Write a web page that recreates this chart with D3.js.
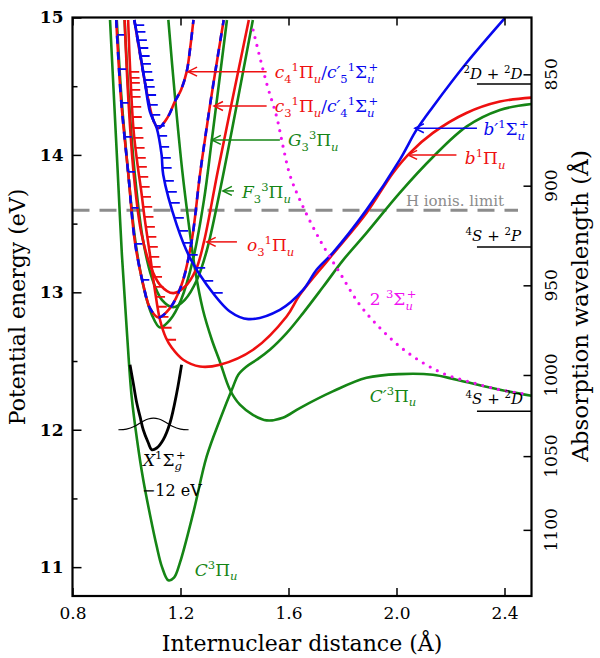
<!DOCTYPE html>
<html>
<head>
<meta charset="utf-8">
<title>N2 potential energy curves</title>
<script src="https://cdn.jsdelivr.net/npm/d3@7"></script>
<style>
  body { margin: 0; background: #fff; }
</style>
</head>
<body>
<script>
// ---- data: [r (Angstrom), E (eV)] ----
var C3Pi = [[0.939,14.982],[0.954,14.4],[0.968,13.855],[0.983,13.273],[1.001,12.727],[1.019,12.242],[1.039,11.927],[1.062,11.636],[1.087,11.382],[1.112,11.151],[1.131,11.004],[1.155,10.904],[1.176,10.924],[1.198,11.033],[1.247,11.393],[1.297,11.806],[1.346,12.073],[1.395,12.315],[1.414,12.4],[1.445,12.46],[1.482,12.509],[1.531,12.582],[1.593,12.703],[1.654,12.849],[1.729,13.042],[1.803,13.236],[1.889,13.433],[2.012,13.724],[2.135,13.985],[2.259,14.206],[2.383,14.327],[2.5,14.371]]
var Cp3Pi = [[1.155,14.982],[1.179,14.436],[1.207,13.876],[1.231,13.491],[1.254,13.164],[1.283,12.873],[1.316,12.655],[1.346,12.495],[1.383,12.291],[1.420,12.182],[1.468,12.109],[1.519,12.068],[1.579,12.087],[1.642,12.158],[1.764,12.279],[1.889,12.378],[2.012,12.405],[2.135,12.4],[2.222,12.364],[2.383,12.291],[2.5,12.247]]
var G33Pi = [[0.964,14.982],[0.982,14.4],[1.007,13.855],[1.033,13.369],[1.066,13.018],[1.094,12.836],[1.124,12.744],[1.161,12.8],[1.202,12.945],[1.246,13.236],[1.287,13.673],[1.316,14.109],[1.372,14.982]]
var F33Pi = [[0.993,14.982],[1.009,14.4],[1.031,13.855],[1.061,13.382],[1.094,13.105],[1.131,12.945],[1.173,12.891],[1.216,12.945],[1.261,13.091],[1.298,13.309],[1.346,13.738],[1.468,14.982]]
var o31Pi = [[0.993,14.982],[1.007,14.4],[1.027,13.855],[1.054,13.44],[1.087,13.2],[1.124,13.055],[1.173,12.994],[1.216,13.04],[1.257,13.164],[1.287,13.369],[1.339,13.891],[1.453,14.982]]
var b1Pi = [[1.006,14.982],[1.014,14.596],[1.026,14.182],[1.041,13.927],[1.054,13.745],[1.068,13.527],[1.087,13.273],[1.105,13.018],[1.124,12.8],[1.146,12.669],[1.168,12.596],[1.210,12.509],[1.272,12.46],[1.346,12.473],[1.469,12.582],[1.593,12.824],[1.642,12.982],[1.753,13.251],[1.889,13.578],[1.987,13.869],[2.05,14.015],[2.135,14.16],[2.259,14.305],[2.383,14.388],[2.5,14.417]]
var bp1Sig = [[1.029,14.982],[1.050,14.749],[1.068,14.531],[1.087,14.313],[1.112,14.194],[1.130,14.0],[1.136,13.855],[1.186,13.491],[1.235,13.251],[1.297,13.055],[1.383,12.86],[1.451,12.805],[1.568,12.873],[1.654,13.018],[1.704,13.164],[1.764,13.287],[1.889,13.6],[2.012,13.964],[2.074,14.182],[2.135,14.351],[2.259,14.669],[2.401,14.996]]
var c4c5 = [[1.029,14.982],[1.068,14.531],[1.087,14.342],[1.102,14.24],[1.118,14.194],[1.142,14.242],[1.161,14.305],[1.179,14.388],[1.202,14.473],[1.223,14.606],[1.235,14.764],[1.248,14.982]]
var c3c4 = [[0.962,14.982],[0.980,14.4],[1.007,13.855],[1.031,13.369],[1.062,13.055],[1.087,12.885],[1.118,12.817],[1.161,12.885],[1.204,13.055],[1.241,13.369],[1.272,13.855],[1.309,14.359],[1.360,14.982]]
var sig3 = [[1.469,14.909],[1.519,14.521],[1.556,14.279],[1.580,14.06],[1.605,13.855],[1.642,13.673],[1.716,13.382],[1.790,13.142],[1.864,12.909],[1.938,12.742],[2.012,12.606],[2.098,12.487],[2.185,12.4],[2.283,12.342],[2.383,12.291],[2.494,12.255]]
var Xground = [[1.013,12.473],[1.025,12.34],[1.038,12.194],[1.050,12.097],[1.062,12.0],[1.081,11.903],[1.093,11.855],[1.112,11.867],[1.136,11.927],[1.161,12.049],[1.186,12.267],[1.204,12.473]]
var Xwave = [[0.97,12.0],[1.00,12.005],[1.03,12.025],[1.06,12.06],[1.08,12.078],[1.10,12.085],[1.12,12.078],[1.14,12.06],[1.17,12.025],[1.20,12.005],[1.23,12.0]]

// vibrational level markers (eV)
var bpLevels = [14.945,14.895,14.836,14.778,14.72,14.662,14.604,14.545,14.495,14.436,14.364,14.291,14.211,14.138,14.058,13.978,13.905,13.811,13.731,13.651,13.542,13.447,13.36,13.273,13.178,13.084,12.996]
var bLevels = [14.604,14.56,14.524,14.473,14.422,14.349,14.276,14.196,14.124,14.051,13.978,13.913,13.84,13.767,13.695,13.622,13.549,13.476,13.404,13.331,13.258,13.185,13.113,13.04,12.967,12.895,12.822,12.742,12.655]
var c4pLevels = [14.873,14.625,14.378,14.131,13.876,13.615,13.353,13.091]

// atomic limits (eV) and H ionisation
var limitNames = ["2D+2D", "4S+2P", "4S+2D"]
var limitE = [14.516, 13.329, 12.135]
var Hlimit = 13.598

var xTicks = [0.8, 1.2, 1.6, 2.0, 2.4]
var yTicks = [11, 12, 13, 14, 15]
var yMinor = [11.5, 12.5, 13.5, 14.5]
var wavelengths = [850, 900, 950, 1000, 1050, 1100]
var hc = 12398.42

var RED = "#ee1010", GREEN = "#158515", BLUE = "#0808ee", MAG = "#f010f0", GRAY = "#8c8c8c"
var SERIF = "'DejaVu Serif', serif"

var width = 600, height = 658
var x = d3.scaleLinear().domain([0.8, 2.5]).range([72.5, 531.5])
var y = d3.scaleLinear().domain([10.79, 15]).range([596, 17.5])

var svg = d3.select("body").append("svg").attr("width", width).attr("height", height)
  .attr("font-family", SERIF)

svg.append("clipPath").attr("id", "plotclip").append("rect")
  .attr("x", x(0.8)).attr("y", y(15)).attr("width", x(2.5) - x(0.8)).attr("height", y(10.79) - y(15))

var plot = svg.append("g").attr("clip-path", "url(#plotclip)")
var g = svg.append("g")

var line = d3.line().x(d => x(d[0])).y(d => y(d[1])).curve(d3.curveCatmullRom.alpha(0.5))

function curve(data, color, w) {
  return plot.append("path").attr("d", line(data)).attr("fill", "none")
    .attr("stroke", color).attr("stroke-width", w || 2.6).attr("stroke-linejoin", "round")
}

// left-wall crossing of a well at energy E
function wallR(data, E) {
  var iMin = d3.minIndex(data, d => d[1])
  for (var i = 0; i < iMin; i++) {
    var a = data[i], b = data[i + 1]
    if (E <= a[1] && E >= b[1]) {
      var t = (a[1] - E) / (a[1] - b[1])
      return a[0] + t * (b[0] - a[0])
    }
  }
  return null
}

function levels(data, list, color, len) {
  list.forEach(function (E) {
    var r = wallR(data, E)
    if (r === null) return
    plot.append("line").attr("x1", x(r)).attr("x2", x(r) + len)
      .attr("y1", y(E)).attr("y2", y(E)).attr("stroke", color).attr("stroke-width", 1.8)
  })
}

// H ionisation limit
plot.append("line").attr("x1", x(0.8)).attr("x2", x(2.45)).attr("y1", y(Hlimit)).attr("y2", y(Hlimit))
  .attr("stroke", GRAY).attr("stroke-width", 3).attr("stroke-dasharray", "17,10")

// green triplets
curve(G33Pi, GREEN)
curve(F33Pi, GREEN)
curve(Cp3Pi, GREEN)
curve(C3Pi, GREEN)

// red singlets
curve(o31Pi, RED)
curve(b1Pi, RED)
levels(b1Pi, bLevels, RED, 9)

// mixed c / c' states: red with blue dashes
curve(c3c4, RED)
curve(c3c4, BLUE).attr("stroke-dasharray", "8,8")
levels(c3c4, c4pLevels, BLUE, 7)
curve(c4c5, RED)
curve(c4c5, BLUE).attr("stroke-dasharray", "8,8")

// b' state
curve(bp1Sig, BLUE)
levels(bp1Sig, bpLevels, BLUE, 9)

// ground state (shifted) and wavefunction
curve(Xground, "#000", 2.8)
curve(Xwave, "#000", 1.2)

// 2 3Sigma_u+ dotted
curve(sig3, MAG, 3.2).attr("stroke-dasharray", "0,8").attr("stroke-linecap", "round")

// atomic limits
limitE.forEach(function (E) {
  plot.append("line").attr("x1", x(2.298)).attr("x2", x(2.5)).attr("y1", y(E)).attr("y2", y(E))
    .attr("stroke", "#000").attr("stroke-width", 1.5)
})

// ---- axes ----
function styleAxis(sel) {
  sel.select(".domain").remove()
  sel.selectAll("line").attr("stroke", "#000").attr("stroke-width", 1.5)
  sel.attr("font-family", SERIF).attr("font-size", 17)
  sel.selectAll("text").attr("fill", "#000")
}

g.append("g").attr("transform", "translate(0," + y(10.79) + ")")
  .call(d3.axisBottom(x).tickValues(xTicks).tickSizeInner(-8).tickSizeOuter(0).tickPadding(11).tickFormat(d3.format(".1f")))
  .call(styleAxis)
g.append("g").attr("transform", "translate(0," + y(15) + ")")
  .call(d3.axisTop(x).tickValues(xTicks).tickSizeInner(-8).tickSizeOuter(0).tickFormat(""))
  .call(styleAxis)
g.append("g").attr("transform", "translate(" + x(0.8) + ",0)")
  .call(d3.axisLeft(y).tickValues(yTicks).tickSizeInner(-9).tickSizeOuter(0).tickPadding(9).tickFormat(d3.format("d")))
  .call(styleAxis)
  .selectAll("text").attr("font-weight", "bold")
g.append("g").attr("transform", "translate(" + x(0.8) + ",0)")
  .call(d3.axisLeft(y).tickValues(yMinor).tickSizeInner(-5).tickSizeOuter(0).tickFormat(""))
  .call(styleAxis)

// right axis: absorption wavelength
var waveE = wavelengths.map(l => hc / l)
g.append("g").attr("transform", "translate(" + x(2.5) + ",0)")
  .call(d3.axisRight(y).tickValues(waveE).tickSizeInner(-8).tickSizeOuter(0).tickFormat(""))
  .call(styleAxis)
wavelengths.forEach(function (l, i) {
  g.append("text").attr("transform", "translate(557," + y(waveE[i]) + ") rotate(-90)")
    .attr("text-anchor", "middle").attr("font-size", 17).text(l)
})

g.append("rect").attr("x", x(0.8)).attr("y", y(15)).attr("width", x(2.5) - x(0.8)).attr("height", y(10.79) - y(15))
  .attr("fill", "none").attr("stroke", "#000").attr("stroke-width", 2.2)

// axis titles
g.append("text").attr("x", 302).attr("y", 651).attr("text-anchor", "middle").attr("font-size", 22)
  .text("Internuclear distance (Å)")
g.append("text").attr("transform", "translate(25,307) rotate(-90)").attr("text-anchor", "middle").attr("font-size", 22)
  .text("Potential energy (eV)")
g.append("text").attr("transform", "translate(588,306) rotate(-90)").attr("text-anchor", "middle").attr("font-size", 23)
  .text("Absorption wavelength (Å)")

// ---- labels ----
function term(r, E, parts, color, size) {
  size = size || 17
  var t = g.append("text").attr("x", x(r)).attr("y", y(E)).attr("fill", color).attr("font-size", size)
  var shift = 0
  parts.forEach(function (p) {
    var s = p[1] === "sup" ? -0.4 * size : p[1] === "sub" ? 0.28 * size : 0
    var ts = t.append("tspan").attr("dy", s - shift).text(p[0])
    shift = s
    if (p[1] !== "n") ts.attr("font-size", size * 0.68)
    if (p[2]) ts.attr("font-style", "italic")
    if (p[3]) ts.attr("fill", p[3])
    if (p[4]) ts.attr("dx", p[4])
  })
  return t
}

function arrow(tipR, tailR, E, color) {
  var xt = x(tipR), xe = x(tailR), yy = y(E)
  g.append("line").attr("x1", xt).attr("x2", xe).attr("y1", yy).attr("y2", yy)
    .attr("stroke", color).attr("stroke-width", 1.5)
  g.append("path").attr("d", "M" + (xt + 9) + "," + (yy - 4.5) + "L" + xt + "," + yy + "L" + (xt + 9) + "," + (yy + 4.5))
    .attr("fill", "none").attr("stroke", color).attr("stroke-width", 1.5)
}

arrow(1.228, 1.519, 14.606, RED)
arrow(1.324, 1.519, 14.356, RED)
arrow(1.316, 1.568, 14.109, GREEN)
arrow(1.357, 1.398, 13.738, GREEN)
arrow(1.297, 1.409, 13.367, RED)
arrow(2.068, 2.298, 14.194, BLUE)
arrow(2.043, 2.222, 14.0, RED)

term(1.549, 14.56, [["c","n",1],["4","sub"],["1","sup"],["Π","n"],["u","sub",1],["/","n",0,BLUE],["c′","n",1,BLUE],["5","sub",0,BLUE],["1","sup",0,BLUE],["Σ","n",0,BLUE],["u","sub",1,BLUE],["+","sup",0,BLUE,-6]], RED)
term(1.549, 14.313, [["c","n",1],["3","sub"],["1","sup"],["Π","n"],["u","sub",1],["/","n",0,BLUE],["c′","n",1,BLUE],["4","sub",0,BLUE],["1","sup",0,BLUE],["Σ","n",0,BLUE],["u","sub",1,BLUE],["+","sup",0,BLUE,-6]], RED)
term(1.598, 14.065, [["G","n",1],["3","sub"],["3","sup"],["Π","n"],["u","sub",1]], GREEN)
term(1.428, 13.687, [["F","n",1],["3","sub"],["3","sup"],["Π","n"],["u","sub",1]], GREEN)
term(1.446, 13.302, [["o","n",1],["3","sub"],["1","sup"],["Π","n"],["u","sub",1]], RED)
term(2.322, 14.145, [["b′","n",1],["1","sup"],["Σ","n"],["u","sub",1],["+","sup",0,null,-6]], BLUE)
term(2.253, 13.935, [["b","n",1],["1","sup"],["Π","n"],["u","sub",1]], RED)
term(1.901, 12.909, [["2 ","n"],["3","sup"],["Σ","n"],["u","sub",1],["+","sup",0,null,-6]], MAG)
term(1.901, 12.204, [["C′","n",1],["3","sup"],["Π","n"],["u","sub",1]], GREEN)
term(1.253, 10.938, [["C","n",1],["3","sup"],["Π","n"],["u","sub",1]], GREEN)
term(1.061, 11.738, [["X","n",1],["1","sup"],["Σ","n"],["g","sub",1],["+","sup",0,null,-6]], "#000")
g.append("text").attr("x", x(1.057)).attr("y", y(11.52)).attr("font-size", 16).text("−12 eV")

var limitY = [14.553, 13.375, 12.189]
limitNames.forEach(function (n, i) {
  var a = n.split("+")
  term(i === 0 ? 2.248 : 2.256, limitY[i], [[a[0][0],"sup"],[a[0].slice(1),"n",1],[" + ","n"],[a[1][0],"sup"],[a[1].slice(1),"n",1]], "#000", 15)
})

g.append("text").attr("x", x(2.035)).attr("y", y(13.629)).attr("font-size", 15).attr("fill", GRAY)
  .text("H ionis. limit")
</script>
</body>
</html>
